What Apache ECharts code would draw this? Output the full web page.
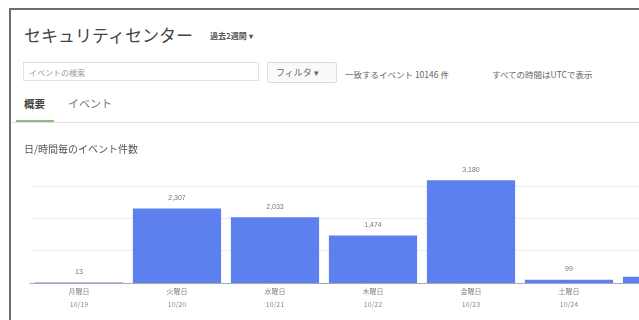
<!DOCTYPE html>
<html>
<head>
<meta charset="utf-8">
<script src="https://cdn.jsdelivr.net/npm/echarts@6/dist/echarts.min.js"></script>
<style>
  html, body { margin: 0; padding: 0; width: 639px; height: 320px; overflow: hidden; background: #fff; }
  body { position: relative; font-family: "Noto Sans CJK JP", "Noto Sans", sans-serif; color: #555; }
  .frame { position: absolute; left: 9px; top: 8px; width: 700px; height: 400px; border-top: 2px solid #6e6e6e; border-left: 2px solid #6e6e6e; }
  .abs { position: absolute; white-space: nowrap; }
  .title { left: 24px; top: 22px; font-size: 17px; color: #444; }
  .range { left: 210px; top: 30px; font-size: 8px; color: #555; font-weight: bold; }
  .search { left: 23px; top: 62px; width: 236px; height: 19px; border: 1px solid #e2e2e2; font-size: 8px; color: #999; line-height: 19px; padding-left: 5px; box-sizing: border-box; }
  .filter { left: 267px; top: 62px; width: 70px; height: 21px; border: 1px solid #dcdcdc; border-radius: 2px; font-size: 9px; color: #666; line-height: 20px; padding-left: 8px; box-sizing: border-box; background: #fafafa; }
  .match { left: 345px; top: 68px; font-size: 8.5px; color: #666; }
  .utc { left: 492px; top: 68px; font-size: 8.5px; color: #666; }
  .tab1 { left: 24px; top: 96px; font-size: 10.5px; color: #444; font-weight: bold; }
  .tab2 { left: 68px; top: 95px; font-size: 11px; color: #777; }
  .divider { left: 11px; top: 122px; width: 640px; height: 1px; background: #e0e0e0; }
  .tabline { left: 16px; top: 120px; width: 38px; height: 2px; background: #86c07a; }
  #chart { position: absolute; left: 0; top: 0; width: 760px; height: 320px; }
</style>
</head>
<body>
<div class="frame"></div>
<div class="abs title">セキュリティセンター</div>
<div class="abs range">過去2週間 ▾</div>
<div class="abs search">イベントの検索</div>
<div class="abs filter">フィルタ ▾</div>
<div class="abs match">一致するイベント 10146 件</div>
<div class="abs utc">すべての時間はUTCで表示</div>
<div class="abs tab1">概要</div>
<div class="abs tab2">イベント</div>
<div class="abs divider"></div>
<div class="abs tabline"></div>
<div id="chart"></div>
<script>
const weekdays = ["月曜日", "火曜日", "水曜日", "木曜日", "金曜日", "土曜日", "日曜日"];
const dates = ["10/19", "10/20", "10/21", "10/22", "10/23", "10/24", "10/25"];
const eventCounts = [13, 2307, 2033, 1474, 3180, 99, 190];

const barColor = "#5d80ee";
const gridColor = "#ededed";

const chart = echarts.init(document.getElementById("chart"), null, { renderer: "canvas" });

chart.setOption({
  animation: false,
  title: {
    text: "日/時間毎のイベント件数",
    left: 24,
    top: 144,
    padding: 0,
    textStyle: { fontSize: 10, fontWeight: "normal", color: "#555", fontFamily: "Noto Sans CJK JP" },
  },
  grid: { left: 30, top: 170, width: 686, height: 113 },
  xAxis: {
    type: "category",
    data: weekdays.map((d, i) => d + "\n" + dates[i]),
    axisLine: { lineStyle: { color: "#a8a8a8", width: 1 } },
    axisTick: { show: false },
    axisLabel: { color: "#888", fontSize: 7, lineHeight: 13, margin: 2, fontFamily: "Noto Sans CJK JP" },
  },
  yAxis: {
    type: "value",
    min: 0,
    max: 3500,
    interval: 1000,
    axisLabel: { show: false },
    axisLine: { show: false },
    axisTick: { show: false },
    splitLine: { lineStyle: { color: ["transparent", gridColor, gridColor, gridColor, "transparent"] } },
  },
  series: [
    {
      type: "bar",
      data: eventCounts,
      barCategoryGap: "10%",
      itemStyle: { color: barColor },
      label: {
        show: true,
        position: "top",
        distance: 7,
        fontSize: 7,
        color: "#777",
        formatter: (p) => p.value.toLocaleString("en-US"),
      },
    },
  ],
});
</script>
</body>
</html>
